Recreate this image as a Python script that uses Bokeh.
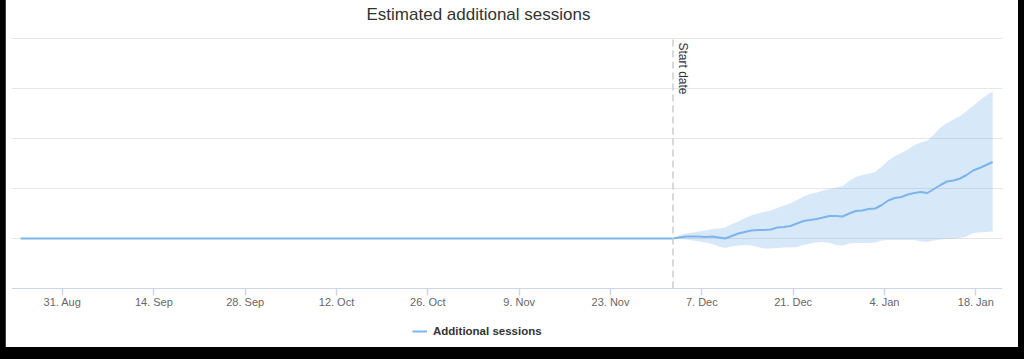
import numpy as np
import pandas as pd
from math import pi
from bokeh.plotting import figure
from bokeh.models import (Label, Legend, LegendItem, FixedTicker, Span,
                          DatetimeTickFormatter, Range1d, GlobalInlineStyleSheet)
from bokeh.embed import file_html
from bokeh.resources import INLINE

# ---------------- data ----------------
TITLE = "Estimated additional sessions"
SERIES_NAME = "Additional sessions"
START_LABEL = "Start date"
TZ = "Australia/Brisbane"

history_start = "2020-08-25"
start_date = "2020-12-03"
forecast_end = "2021-01-21"

forecast_mid = [0, 2, 4, 4, 4, 3, 4, 2, 0, 5,
                10, 13, 16, 17, 17, 18, 22, 23, 25, 30,
                35, 37, 39, 42, 45, 45, 44, 50, 55, 56,
                59, 60, 67, 76, 81, 83, 88, 91, 93, 91,
                99, 107, 114, 116, 120, 127, 136, 141, 147, 153]
forecast_upper = [0, 7, 10, 12, 14, 16, 19, 20, 22, 29,
                  34, 41, 46, 50, 53, 56, 61, 66, 70, 77,
                  84, 89, 92, 96, 99, 102, 105, 115, 123, 127,
                  130, 133, 144, 156, 165, 171, 178, 187, 192, 196,
                  208, 222, 231, 238, 245, 255, 265, 276, 286, 294]
forecast_lower = [0, -1, -2, -4, -6, -8, -11, -16, -19, -16,
                  -14, -13, -14, -17, -20, -20, -19, -18, -18, -17,
                  -13, -10, -8, -7, -9, -13, -14, -10, -9, -9,
                  -9, -8, -4, -3, -3, -3, -3, -3, -6, -7,
                  -4, -2, -1, -1, 1, 4, 11, 12, 13, 14]

tick_dates = ["2020-08-31", "2020-09-14", "2020-09-28", "2020-10-12", "2020-10-26",
              "2020-11-09", "2020-11-23", "2020-12-07", "2020-12-21", "2021-01-04",
              "2021-01-18"]
grid_values = [0, 100, 200, 300, 400]
y_min, y_max = -100, 400          # visible value axis (axis line at y_min)
y_view_min, y_view_max = -230, 402  # frame extends below the axis to hold the legend
x_start, x_end = "2020-08-23 04:20", "2021-01-22 02:10"

# ---------------- prep ----------------
def to_utc(idx):
    return idx.tz_convert("UTC").tz_localize(None)

hist_dates = to_utc(pd.date_range(history_start, start_date, freq="D", tz=TZ))
hist_values = np.zeros(len(hist_dates))
fc_dates = to_utc(pd.date_range(start_date, forecast_end, freq="D", tz=TZ))

line_dates = list(hist_dates[:-1]) + list(fc_dates)
line_values = list(hist_values[:-1]) + forecast_mid

start_ms = pd.Timestamp(hist_dates[-1]).value / 1e6
tick_ms = [pd.Timestamp(d).value / 1e6 for d in tick_dates]

FONT = "Liberation Sans"

p = figure(width=1013, height=365, x_axis_type="datetime",
           output_backend="svg", toolbar_location=None,
           x_range=Range1d(pd.Timestamp(x_start), pd.Timestamp(x_end)),
           y_range=Range1d(y_view_min, y_view_max),
           min_border_left=6, min_border_right=16,
           min_border_top=49, min_border_bottom=0)
p.stylesheets = [GlobalInlineStyleSheet(
    css="html, body { background-color: #000 !important; } "
        "body { padding: 0 0 0 5px !important; margin-top: -12px !important; }")]
p.outline_line_color = "white"
p.outline_line_alpha = 1
p.background_fill_color = "white"
p.border_fill_color = "white"

p.title.text = TITLE
p.title.text_font = FONT
p.title.text_font_size = "17px"
p.title.text_font_style = "normal"
p.title.text_color = "#333333"
p.title.align = "left"
p.title.offset = 355
p.title.standoff = 27

# horizontal grid lines of the value axis
for gv in grid_values:
    p.add_layout(Span(location=gv, dimension="width", line_color="#e6e6e6",
                      line_width=1, level="underlay"))

p.varea(x=fc_dates, y1=forecast_lower, y2=forecast_upper,
        fill_color="#7cb5ec", fill_alpha=0.3)
r = p.line(line_dates, line_values, line_color="#7cb5ec", line_width=2)

p.segment(x0=[start_ms], y0=[y_min], x1=[start_ms], y1=[y_max],
          line_color="#cccccc", line_dash="7 4", line_width=1.5)
p.add_layout(Label(x=start_ms, y=y_max, text=START_LABEL, angle=-pi / 2,
                   text_font=FONT, text_font_size="12px", text_color="#333333",
                   text_align="left", text_baseline="bottom",
                   x_offset=3, y_offset=-4))

ax = p.xaxis[0]
ax.fixed_location = y_min
ax.ticker = FixedTicker(ticks=tick_ms)
fmt = "%-d. %b"
ax.formatter = DatetimeTickFormatter(days=fmt, months=fmt, years=fmt, hours=fmt,
                                     minutes=fmt, hourmin=fmt, seconds=fmt)
ax.axis_line_color = "#ccd6eb"
ax.major_tick_line_color = "#ccd6eb"
ax.major_tick_line_width = 1.5
ax.major_tick_out = 7
ax.major_tick_in = 0
ax.minor_tick_line_color = None
ax.major_label_text_font = FONT
ax.major_label_text_font_size = "11px"
ax.major_label_text_color = "#666666"
ax.major_label_standoff = 0

p.yaxis.visible = False
p.xgrid.visible = False
p.ygrid.visible = False

legend = Legend(items=[LegendItem(label=SERIES_NAME, renderers=[r])],
                location=(401, 16), glyph_width=15, glyph_height=12,
                label_height=12, padding=0, spacing=0, margin=0,
                label_standoff=6, label_text_font=FONT,
                label_text_font_style="bold", label_text_font_size="11.5px",
                label_text_color="#333333", border_line_alpha=0,
                background_fill_alpha=0)
p.add_layout(legend, "center")

open("out.html", "w").write(file_html(p, INLINE))
